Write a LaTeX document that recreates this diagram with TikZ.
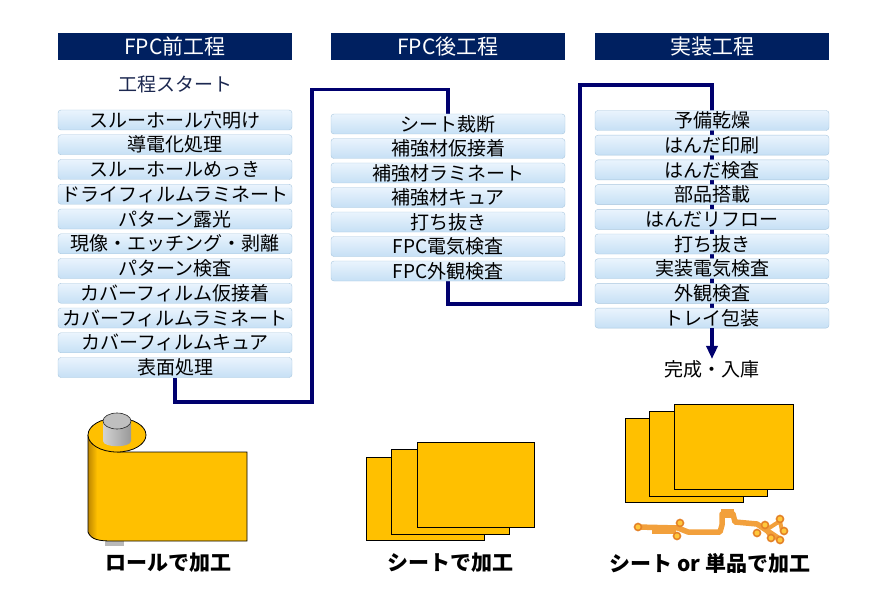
\documentclass[tikz,border=0pt]{standalone}
\usepackage{fontspec}
\setmainfont{Noto Sans CJK JP}
\usetikzlibrary{arrows.meta, backgrounds}
\definecolor{hdrblue}{RGB}{0,32,96}
\definecolor{flowline}{RGB}{0,0,110}
\definecolor{startblue}{RGB}{28,40,80}
\definecolor{boxtop}{RGB}{234,244,253}
\definecolor{boxbot}{RGB}{198,224,245}
\definecolor{boxline}{RGB}{168,198,222}
\definecolor{roll}{RGB}{255,192,0}
\definecolor{rolldark}{RGB}{190,135,0}
\definecolor{fpc}{RGB}{242,160,60}
\definecolor{fpcpad}{RGB}{228,130,40}
\definecolor{fpcdot}{RGB}{255,200,60}

\begin{document}
\begin{tikzpicture}[x=1pt,y=-1pt]
		\tikzstyle{head} = [fill=hdrblue, text=white, minimum width=234pt, minimum height=27pt, inner sep=0, font=\fontsize{21}{22}\selectfont]
		\tikzstyle{stepbox} = [draw=boxline, top color=boxtop, bottom color=boxbot, rounded corners=3pt, minimum width=234pt, minimum height=20pt, inner sep=0, font=\fontsize{19}{20}\selectfont]
		\tikzstyle{flow} = [draw=flowline, line width=3.5pt]
		\tikzstyle{invisible} = [outer sep=0,inner sep=0,minimum size=0]
		\tikzstyle{caption} = [font=\fontsize{21}{22}\selectfont\bfseries]
		\tikzstyle{sheet} = [draw=black, fill=roll, line width=0.9pt]
		\tikzstyle{pad} = [fill=fpcdot, draw=fpcpad, line width=1.6pt]
		\useasboundingbox (0,0) rectangle (876,607);
		% headers
		\node [head] (h1) at (175,46.5) {FPC前工程};
		\node [head] (h2) at (448,46.5) {FPC後工程};
		\node [head] (h3) at (712,46.5) {実装工程};
		\node [text=startblue, font=\fontsize{19}{20}\selectfont] (start) at (175,84) {工程スタート};
		% FPC front steps
		\node [stepbox] (p1) at (175,120) {スルーホール穴明け};
		\node [stepbox] (p2) at (175,144.75) {導電化処理};
		\node [stepbox] (p3) at (175,169.5) {スルーホールめっき};
		\node [stepbox] (p4) at (175,194.25) {ドライフィルムラミネート};
		\node [stepbox] (p5) at (175,219) {パターン露光};
		\node [stepbox] (p6) at (175,243.75) {現像・エッチング・剥離};
		\node [stepbox] (p7) at (175,268.5) {パターン検査};
		\node [stepbox] (p8) at (175,293.25) {カバーフィルム仮接着};
		\node [stepbox] (p9) at (175,318) {カバーフィルムラミネート};
		\node [stepbox] (p10) at (175,342.75) {カバーフィルムキュア};
		\node [stepbox] (p11) at (175,367.5) {表面処理};
		% FPC back steps
		\node [stepbox] (q1) at (448,124) {シート裁断};
		\node [stepbox] (q2) at (448,148.5) {補強材仮接着};
		\node [stepbox] (q3) at (448,173) {補強材ラミネート};
		\node [stepbox] (q4) at (448,197.5) {補強材キュア};
		\node [stepbox] (q5) at (448,222) {打ち抜き};
		\node [stepbox] (q6) at (448,246.5) {FPC電気検査};
		\node [stepbox] (q7) at (448,271) {FPC外観検査};
		% mounting steps
		\node [stepbox] (r1) at (712,120.5) {予備乾燥};
		\node [stepbox] (r2) at (712,145.2) {はんだ印刷};
		\node [stepbox] (r3) at (712,169.9) {はんだ検査};
		\node [stepbox] (r4) at (712,194.6) {部品搭載};
		\node [stepbox] (r5) at (712,219.3) {はんだリフロー};
		\node [stepbox] (r6) at (712,244) {打ち抜き};
		\node [stepbox] (r7) at (712,268.7) {実装電気検査};
		\node [stepbox] (r8) at (712,293.4) {外観検査};
		\node [stepbox] (r9) at (712,318.1) {トレイ包装};
		\node [font=\fontsize{19}{20}\selectfont, inner sep=1pt] (done) at (712,369) {完成・入庫};
		% flow line
		\node [invisible] (a1) at (175,402) {};
		\node [invisible] (a2) at (312,402) {};
		\node [invisible] (a3) at (312,89.5) {};
		\node [invisible] (a4) at (448,89.5) {};
		\node [invisible] (b1) at (448,304) {};
		\node [invisible] (b2) at (580,304) {};
		\node [invisible] (b3) at (580,85) {};
		\node [invisible] (b4) at (712,85) {};
		\begin{scope}[on background layer]
		\draw [flow] (p11.south) -- (a1.center) -- (a2.center) -- (a3.center) -- (a4.center) -- (q1.north);
		\draw [flow] (q7.south) -- (b1.center) -- (b2.center) -- (b3.center) -- (b4.center) -- (r9.south);
		\end{scope}
		\draw [flow, -{Triangle[width=11pt,length=13pt]}] (r9.south) -- (done.north);
		% roll
		\fill [gray!55] (105,532) rectangle (124,546);
		\fill [roll] (88,435) -- (88,532) .. controls (91,540) and (100,541) .. (112,541) -- (247,541) -- (247,452) -- (117,452) -- (146,435) -- cycle;
		\shade [left color=rolldark, right color=roll] (88,435) -- (88,532) .. controls (90,537) and (93,539) .. (97,540) -- (97,435) -- cycle;
		\draw [line width=0.8pt] (88,435) -- (88,532) .. controls (91,540) and (100,541) .. (112,541) -- (247,541) -- (247,452) -- (117,452);
		\filldraw [fill=roll, line width=0.8pt] (117,435) ellipse [x radius=29, y radius=17];
		\shade [left color=gray!35, right color=gray!80] (103,421) -- (103,441) .. controls (103,448) and (131,448) .. (131,441) -- (131,421) -- cycle;
		\filldraw [fill=gray!50, draw=gray!30!black, line width=0.6pt] (117,421) ellipse [x radius=14, y radius=8];
		\node [caption] (c1) at (168,563) {ロールで加工};
		% sheets
		\draw [sheet] (366,457) rectangle (484,540);
		\draw [sheet] (391,449) rectangle (509,534);
		\draw [sheet] (417,442) rectangle (534,527);
		\node [caption] (c2) at (450,563) {シートで加工};
		% sheets or single parts
		\draw [sheet] (625,418) rectangle (743,502);
		\draw [sheet] (649,411) rectangle (767,496);
		\draw [sheet] (674,404) rectangle (793,489);
		\draw [fpc, line width=5.5pt, line join=round] (637,527) -- (678,528) -- (688,532) -- (720,532) -- (722,525) -- (722,514) -- (733,514) -- (735,522) -- (757,524) -- (766,530) -- (778,538);
		\draw [fpc, line width=9pt] (652,529) -- (676,529);
		\draw [fpc, line width=9pt] (721,513) -- (734,513);
		\draw [fpc, line width=4pt] (766,530) -- (780,521) -- (782,531);
		\draw [fpc, line width=4pt] (766,530) -- (771,537);
		\foreach \p in {(638,527),(680,523),(677,536),(757,533),(765,525),(771,538),(780,540),(780,519),(784,531)}
			\filldraw [pad] \p circle (3.5);
		\node [caption] (c3) at (710,563) {シート or 単品で加工};
\end{tikzpicture}
\end{document}
